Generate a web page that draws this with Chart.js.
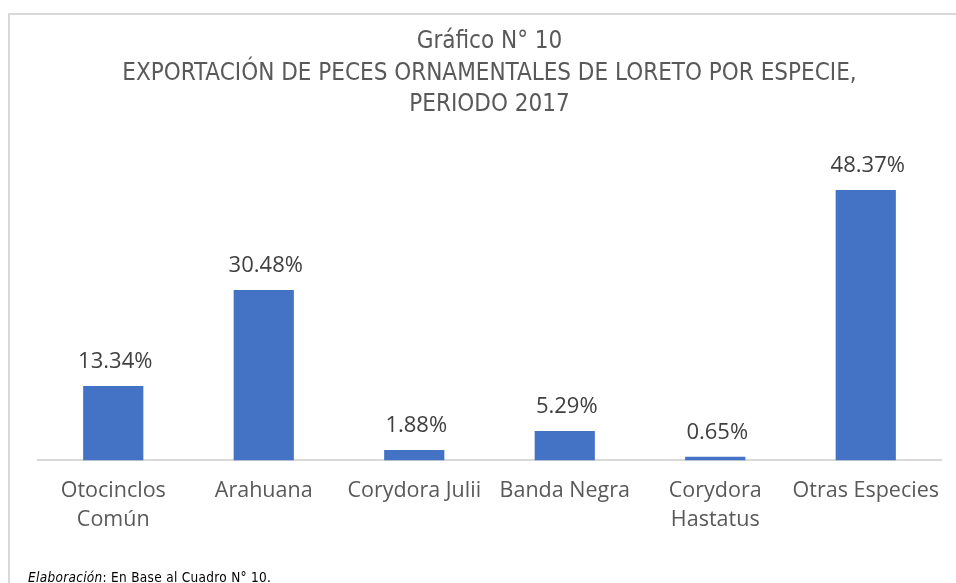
<!DOCTYPE html>
<html>
<head>
<meta charset="utf-8">
<script src="https://cdn.jsdelivr.net/npm/chart.js@4.4.1/dist/chart.umd.min.js"></script>
<style>
  html, body { margin: 0; padding: 0; background: #fff; }
  body { width: 956px; height: 583px; position: relative; overflow: hidden; }
  #frame { position: absolute; left: 8px; top: 13px; width: 960px; height: 600px;
           border-top: 2px solid #d9d9d9; border-left: 2px solid #d9d9d9; box-sizing: border-box; }
  #wrap { position: absolute; left: 0; top: 0; width: 956px; height: 583px; }
  #foot { position: absolute; left: 28px; top: 569px; font-family: "DejaVu Sans Condensed", sans-serif;
          font-size: 13.5px; color: #000; white-space: nowrap; letter-spacing: 0.3px; }
</style>
</head>
<body>
<div id="frame"></div>
<div id="wrap"><canvas id="c" width="956" height="583"></canvas></div>
<div id="foot"><i>Elaboración</i>: En Base al Cuadro N° 10.</div>
<script>
const categories = [["Otocinclos", "Común"], "Arahuana", "Corydora Julii", "Banda Negra", ["Corydora", "Hastatus"], "Otras Especies"];
const shares = [13.34, 30.48, 1.88, 5.29, 0.65, 48.37];
const titleLines = ["Gráfico N° 10", "EXPORTACIÓN DE PECES ORNAMENTALES DE LORETO POR ESPECIE,", "PERIODO 2017"];

const labelPlugin = {
  id: 'barLabels',
  afterDatasetsDraw(chart) {
    const ctx = chart.ctx;
    const meta = chart.getDatasetMeta(0);
    ctx.save();
    ctx.font = '22px "Open Sans", sans-serif';
    ctx.fillStyle = '#404040';
    ctx.textAlign = 'center';
    ctx.textBaseline = 'middle';
    meta.data.forEach((bar, i) => {
      ctx.fillText(shares[i].toFixed(2) + '%', bar.x + 2, bar.y - 24);
    });
    ctx.restore();
  }
};

new Chart(document.getElementById('c'), {
  type: 'bar',
  data: {
    labels: categories,
    datasets: [{
      data: shares,
      backgroundColor: '#4472C4',
      borderWidth: 0,
      barPercentage: 0.4,
      categoryPercentage: 1.0
    }]
  },
  options: {
    responsive: false,
    animation: false,
    layout: { padding: { left: 38, right: 15, top: 8, bottom: 33.5 } },
    plugins: {
      legend: { display: false },
      tooltip: { enabled: false },
      title: {
        display: true,
        text: titleLines,
        color: '#595959',
        font: { family: '"DejaVu Sans Condensed", sans-serif', size: 24, weight: 'normal', lineHeight: 1.3125 },
        padding: { top: 18.25, bottom: 60.25 }
      }
    },
    scales: {
      x: {
        grid: { display: false, drawTicks: false },
        border: { display: true, color: '#d9d9d9', width: 2 },
        ticks: {
          color: '#595959',
          font: { family: '"Open Sans", sans-serif', size: 21.5, lineHeight: 1.35 },
          padding: 15.5,
          maxRotation: 0,
          autoSkip: false
        }
      },
      y: {
        display: false,
        min: 0,
        max: 50
      }
    }
  },
  plugins: [labelPlugin]
});
</script>
</body>
</html>
